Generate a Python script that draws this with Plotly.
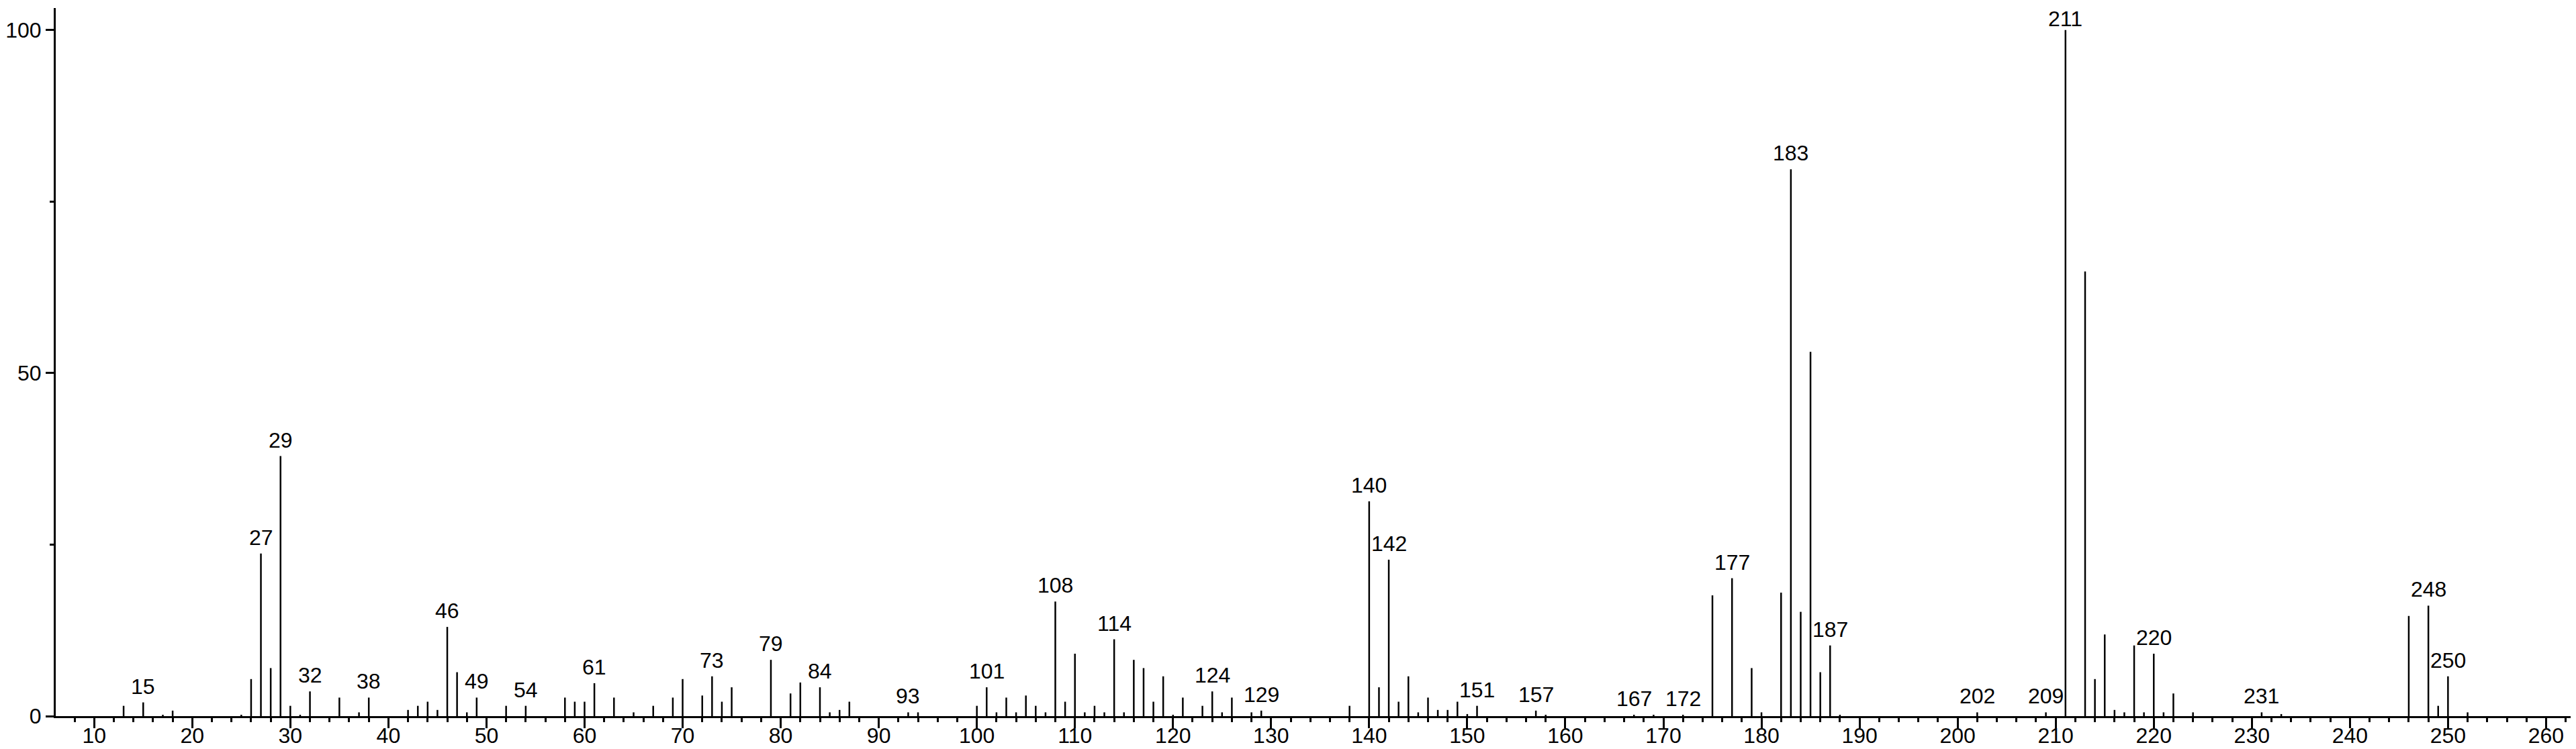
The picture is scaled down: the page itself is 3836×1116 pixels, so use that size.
import plotly.graph_objects as go

mz = [13, 15, 17, 18, 25, 26, 27, 28, 29, 30, 31, 32, 35, 37, 38, 42, 43, 44, 45, 46,
      47, 48, 49, 52, 54, 58, 59, 60, 61, 63, 65, 67, 69, 70, 72, 73, 74, 75, 79, 81,
      82, 84, 85, 86, 87, 93, 94, 100, 101, 102, 103, 104, 105, 106, 107, 108, 109, 110, 111, 112,
      113, 114, 115, 116, 117, 118, 119, 120, 121, 123, 124, 125, 126, 128, 129, 138, 140, 141, 142, 143,
      144, 145, 146, 147, 148, 149, 150, 151, 157, 158, 167, 169, 172, 175, 177, 179, 180, 182, 183, 184,
      185, 186, 187, 188, 202, 209, 211, 213, 214, 215, 216, 217, 218, 219, 220, 221, 222, 224, 231, 233,
      246, 248, 249, 250, 252]
intensity = [1.5, 2.0, 0.2, 0.8, 0.2, 5.4, 23.7, 7.0, 37.9, 1.5, 0.2, 3.6, 2.7, 0.55, 2.7, 0.9, 1.5, 2.1, 0.9, 13.0,
             6.4, 0.55, 2.7, 1.5, 1.5, 2.7, 2.1, 2.1, 4.8, 2.7, 0.55, 1.5, 2.7, 5.4, 3.0, 5.8, 2.1, 4.2, 8.2, 3.3,
             4.9, 4.2, 0.55, 0.9, 2.1, 0.55, 0.55, 1.5, 4.2, 0.55, 2.7, 0.55, 3.0, 1.5, 0.55, 16.7, 2.1, 9.1, 0.55, 1.5,
             0.55, 11.2, 0.55, 8.2, 7.0, 2.1, 5.8, 0.2, 2.7, 1.5, 3.6, 0.55, 2.7, 0.55, 0.8, 1.5, 31.3, 4.2, 22.8, 2.1,
             5.8, 0.55, 2.7, 0.9, 0.9, 2.1, 0.3, 1.5, 0.8, 0.2, 0.2, 0.2, 0.2, 17.6, 20.1, 7.0, 0.55, 18.0, 79.7, 15.2,
             53.1, 6.4, 10.3, 0.2, 0.55, 0.55, 100.0, 64.8, 5.4, 11.9, 0.9, 0.55, 10.3, 0.55, 9.1, 0.55, 3.3, 0.55, 0.55, 0.3,
             14.6, 16.1, 1.5, 5.8, 0.55]
labeled = [15, 27, 29, 32, 38, 46, 49, 54, 61, 73, 79, 84, 93, 101, 108, 114, 124, 129, 140, 142,
           151, 157, 167, 172, 177, 183, 187, 202, 209, 211, 220, 231, 248, 250]

xs, ys = [], []
for m, v in zip(mz, intensity):
    xs += [m, m, None]
    ys += [0, v, None]

fig = go.Figure()
fig.add_trace(go.Scatter(x=xs, y=ys, mode="lines",
                         line=dict(color="black", width=2.5),
                         hoverinfo="skip", showlegend=False))

lookup = dict(zip(mz, intensity))
base = max(intensity)
for m in labeled:
    top_label = lookup[m] >= base
    fig.add_annotation(x=m, y=lookup[m], text=str(m), showarrow=False,
                       xanchor="center", yanchor="bottom",
                       yshift=-2 if top_label else 4, borderpad=0 if top_label else 1,
                       font=dict(family="Liberation Sans, Arial", size=32, color="black"))

fig.update_layout(
    width=3836, height=1116,
    margin=dict(l=69, r=0, t=4, b=57),
    plot_bgcolor="white", paper_bgcolor="white",
    font=dict(family="Liberation Sans, Arial", size=32, color="black"),
    showlegend=False,
)
fig.update_xaxes(range=[6.08, 263.6], tick0=0, dtick=10, ticks="outside", ticklen=15,
                 tickwidth=3, tickcolor="black", showline=True, linewidth=3, linecolor="black",
                 showgrid=False, zeroline=False, ticklabelstandoff=-16,
                 minor=dict(dtick=2, ticks="outside", ticklen=6, tickwidth=3, tickcolor="black", showgrid=False))
fig.update_yaxes(range=[0, 103.2], tick0=0, dtick=50, ticks="outside", ticklen=12,
                 tickwidth=3, tickcolor="black", showline=True, linewidth=3, linecolor="black",
                 showgrid=False, zeroline=False, ticklabelstandoff=0,
                 minor=dict(dtick=25, ticks="outside", ticklen=6, tickwidth=3, tickcolor="black", showgrid=False))

fig.write_html("out.html")
